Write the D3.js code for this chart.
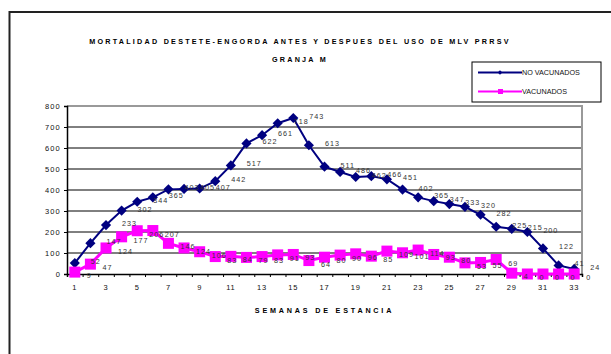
<!DOCTYPE html>
<html>
<head>
<meta charset="utf-8">
<script src="https://cdn.jsdelivr.net/npm/d3@7"></script>
<style>
  body { margin: 0; background: #fff; }
  text { font-family: "Liberation Sans", Arial, sans-serif; }
</style>
</head>
<body>
<div id="main"></div>
<script>
// semanas 1..33
const semanas = d3.range(1, 34);
const noVacunados = [52, 147, 233, 302, 344, 365, 403, 405, 407, 442, 517, 622, 661, 718, 743, 613,
  511, 486, 462, 466, 451, 402, 365, 347, 333, 320, 282, 225, 215, 200, 122, 41, 24];
const vacunados = [9, 47, 124, 177, 206, 207, 146, 124, 106, 83, 84, 79, 83, 91, 93, 64,
  80, 90, 96, 85, 109, 101, 114, 93, 80, 53, 55, 69, 4, 0, 0, 0, 0];
const yTicks = [0, 100, 200, 300, 400, 500, 600, 700, 800];
const xTickLabels = semanas.filter(d => d % 2 === 1);
const seriesNames = ["NO VACUNADOS", "VACUNADOS"];

function main() {
  const svgWidth = 611, svgHeight = 354;
  const plotLeft = 67, plotRight = 582, plotTop = 106, plotBottom = 274;
  const navy = "#000080", pink = "#ff00ff";

  const svg = d3.select("#main").append("svg")
    .attr("width", svgWidth).attr("height", svgHeight);

  // chart area border (runs off the picture right and bottom)
  svg.append("rect")
    .attr("x", 9.5).attr("y", 12)
    .attr("width", 620).attr("height", 360)
    .attr("fill", "#fff").attr("stroke", "#222").attr("stroke-width", 2);

  // titles
  svg.append("text").text("MORTALIDAD DESTETE-ENGORDA ANTES Y DESPUES DEL USO DE MLV PRRSV")
    .attr("x", 300).attr("y", 44).attr("text-anchor", "middle")
    .attr("font-size", 7.2).attr("font-weight", "bold").attr("letter-spacing", 2.25);
  svg.append("text").text("GRANJA M")
    .attr("x", 300).attr("y", 62).attr("text-anchor", "middle")
    .attr("font-size", 7.2).attr("font-weight", "bold").attr("letter-spacing", 2.25);

  // scales
  const x = d3.scaleBand().domain(semanas).range([plotLeft, plotRight]);
  const cx = d => x(d) + x.bandwidth() / 2;
  const xEdges = d3.scaleLinear().domain([0, semanas.length]).range([plotLeft, plotRight]);
  const y = d3.scaleLinear().domain([0, 800]).range([plotBottom, plotTop]);

  // gridlines
  svg.append("g")
    .selectAll("line").data(yTicks.slice(1, -1)).enter().append("line")
    .attr("x1", plotLeft).attr("x2", plotRight)
    .attr("y1", d => y(d)).attr("y2", d => y(d))
    .attr("stroke", "#000").attr("stroke-width", 1);

  // plot area border top/right (gray)
  svg.append("path")
    .attr("d", `M${plotLeft},${plotTop}H${plotRight}V${plotBottom}`)
    .attr("fill", "none").attr("stroke", "#999").attr("stroke-width", 2);

  // Y axis
  const yAxis = svg.append("g")
    .attr("transform", `translate(${plotLeft},0)`)
    .call(d3.axisLeft(y).tickValues(yTicks).tickSize(3).tickPadding(3));
  yAxis.select(".domain").attr("stroke", "#000").attr("stroke-width", 1.5);
  yAxis.selectAll("text").attr("font-size", 7.5).attr("letter-spacing", 1.2)
    .attr("font-family", "Liberation Sans, Arial, sans-serif").attr("fill", "#111");

  // X axis: tick marks at category edges
  const xAxisTicks = svg.append("g")
    .attr("transform", `translate(0,${plotBottom})`)
    .call(d3.axisBottom(xEdges).tickValues(d3.range(0, semanas.length + 1)).tickFormat("").tickSize(3));
  xAxisTicks.select(".domain").attr("stroke", "#000").attr("stroke-width", 1.5);

  // X axis labels
  const xAxisLabels = svg.append("g")
    .attr("transform", `translate(0,${plotBottom})`)
    .call(d3.axisBottom(x).tickValues(xTickLabels).tickSize(0).tickPadding(11));
  xAxisLabels.select(".domain").remove();
  xAxisLabels.selectAll("text").attr("font-size", 7.5).attr("letter-spacing", 0.8)
    .attr("font-family", "Liberation Sans, Arial, sans-serif").attr("fill", "#111");

  svg.append("text").text("SEMANAS DE ESTANCIA")
    .attr("x", (plotLeft + plotRight) / 2).attr("y", 313).attr("text-anchor", "middle")
    .attr("font-size", 7.2).attr("font-weight", "bold").attr("letter-spacing", 2.8);

  // lines
  const line = d3.line().x((d, i) => cx(semanas[i])).y(d => y(d));
  svg.append("path").datum(noVacunados).attr("d", line)
    .attr("fill", "none").attr("stroke", navy).attr("stroke-width", 2);
  svg.append("g").selectAll("path").data(noVacunados).enter().append("path")
    .attr("d", d3.symbol(d3.symbolDiamond2, 66))
    .attr("transform", (d, i) => `translate(${cx(semanas[i])},${y(d)})`)
    .attr("fill", navy);

  svg.append("path").datum(vacunados).attr("d", line)
    .attr("fill", "none").attr("stroke", pink).attr("stroke-width", 3);
  svg.append("g").selectAll("rect").data(vacunados).enter().append("rect")
    .attr("x", (d, i) => cx(semanas[i]) - 5.5).attr("y", d => y(d) - 5.5)
    .attr("width", 11).attr("height", 11).attr("fill", pink);

  // data labels
  svg.append("g").selectAll("text").data(noVacunados).enter().append("text")
    .text(d => d)
    .attr("x", (d, i) => cx(semanas[i]) + 16).attr("y", d => y(d) + 1)
    .attr("font-size", 7.2).attr("letter-spacing", 1).attr("fill", "#333");
  svg.append("g").selectAll("text").data(vacunados).enter().append("text")
    .text(d => d)
    .attr("x", (d, i) => cx(semanas[i]) + 12).attr("y", d => y(d) + 6)
    .attr("font-size", 7.2).attr("letter-spacing", 1).attr("fill", "#333");

  // legend
  const leg = svg.append("g").attr("transform", "translate(472,62)");
  leg.append("rect").attr("width", 129).attr("height", 40)
    .attr("fill", "#fff").attr("stroke", "#000").attr("stroke-width", 1);
  const legColors = [navy, pink];
  seriesNames.forEach((name, i) => {
    const ly = 10.5 + i * 19;
    leg.append("line").attr("x1", 6).attr("x2", 50).attr("y1", ly).attr("y2", ly)
      .attr("stroke", legColors[i]).attr("stroke-width", 2);
    if (i === 0) {
      leg.append("path").attr("d", d3.symbol(d3.symbolDiamond2, 14))
        .attr("transform", `translate(28,${ly})`).attr("fill", navy);
    } else {
      leg.append("rect").attr("x", 26).attr("y", ly - 2.5).attr("width", 5).attr("height", 5).attr("fill", pink);
    }
    leg.append("text").text(name).attr("x", 50).attr("y", ly + 2.6)
      .attr("font-size", 7.2).attr("fill", "#111");
  });
}
main();
</script>
</body>
</html>
